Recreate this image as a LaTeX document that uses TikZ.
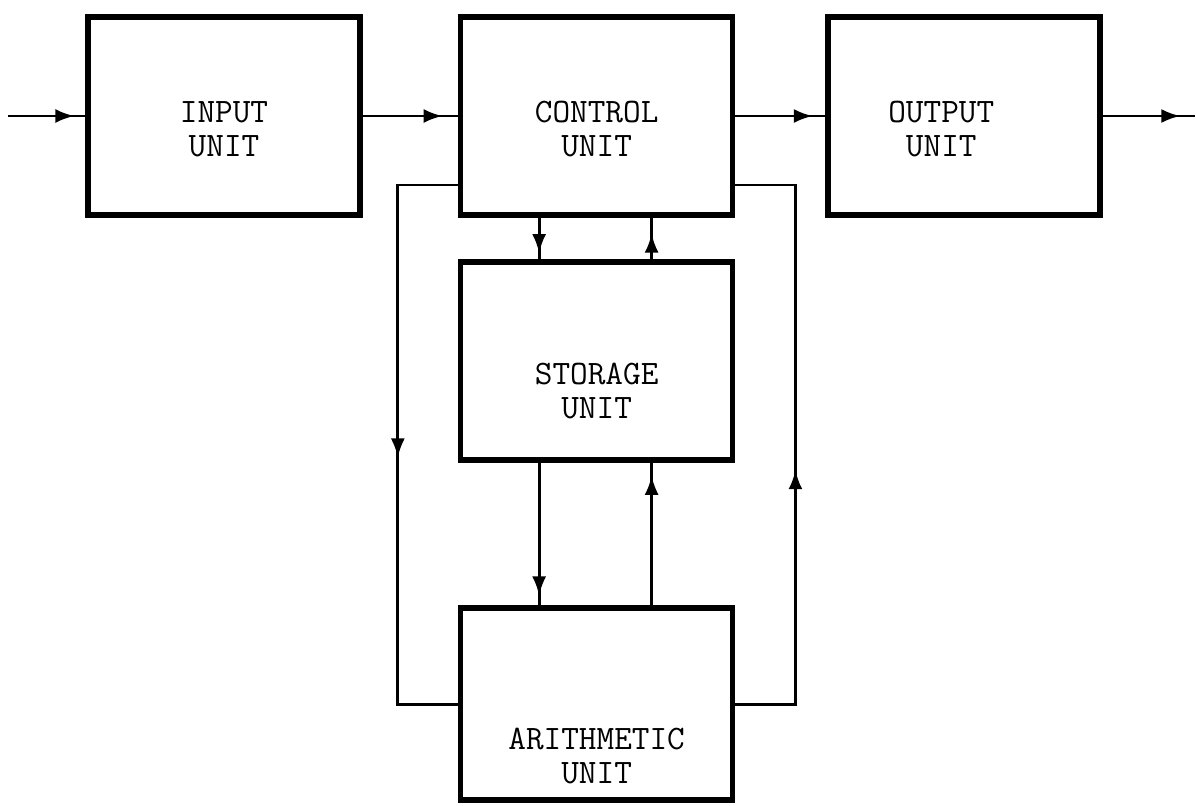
\documentclass[tikz,border=0pt]{standalone}
\usetikzlibrary{arrows.meta, positioning, decorations.markings}

\begin{document}
\begin{tikzpicture}[
        unidad/.style={
            rectangle,
            draw=black,
            line width=3.2pt,
            minimum width=5.44cm,
            minimum height=3.96cm,
            inner sep=0pt
        },
        rotulo/.style={
            align=center,
            font=\ttfamily\fontsize{19.5}{19.5}\selectfont,
            inner sep=0pt
        },
        conector/.style={line width=1.6pt, draw=black},
        flecha/.style={
            conector,
            postaction=decorate,
            decoration={markings,
                mark=at position #1 with {\arrow{Latex[length=3.8mm, width=2.8mm]}}}
        }
    ]
        \useasboundingbox (0,0) rectangle (23.94,-16.1);

        \node[unidad, label={[rotulo, yshift=-0.26cm]center:{INPUT\\UNIT}}] (input) at (4.48,-2.32) {};

        \node[unidad, right=1.9cm of input,
            label={[rotulo, yshift=-0.26cm]center:{CONTROL\\UNIT}}] (control) {};

        \node[unidad, right=1.8cm of control,
            label={[rotulo, xshift=-0.46cm, yshift=-0.26cm]center:{OUTPUT\\UNIT}}] (output) {};

        \node[unidad, below=0.83cm of control,
            label={[rotulo, yshift=-0.6cm]center:{STORAGE\\UNIT}}] (storage) {};

        \node[unidad, minimum height=3.84cm, below=2.85cm of storage,
            label={[rotulo, yshift=-1.04cm]center:{ARITHMETIC\\UNIT}}] (arith) {};

        \coordinate (entrada) at (0.16,-2.32);
        \coordinate (salida) at (23.9,-2.32);
        \draw[flecha=0.86] (entrada) -- (input);
        \draw[flecha=0.84] (input) -- (control);
        \draw[flecha=0.86] (control) -- (output);
        \draw[flecha=0.84] (output) -- (salida);

        % control <-> storage <-> arithmetic
        \draw[flecha=0.85] ([xshift=-1.15cm]control.south) -- ([xshift=-1.15cm]storage.north);
        \draw[flecha=0.62] ([xshift=1.1cm]storage.north) -- ([xshift=1.1cm]control.south);
        \draw[flecha=0.93] ([xshift=-1.15cm]storage.south) -- ([xshift=-1.15cm]arith.north);
        \draw[flecha=0.91] ([xshift=1.1cm]arith.north) -- ([xshift=1.1cm]storage.south);

        % lazos laterales
        \coordinate (izq) at ([xshift=-1.2cm, yshift=-1.38cm]control.west);
        \coordinate (der) at ([xshift=1.2cm, yshift=-1.38cm]control.east);
        \draw[flecha=0.52] ([yshift=-1.38cm]control.west) -- (izq) |- (arith.west);
        \draw[flecha=0.46] (arith.east) -| (der) -- ([yshift=-1.38cm]control.east);
    \end{tikzpicture}
\end{document}
